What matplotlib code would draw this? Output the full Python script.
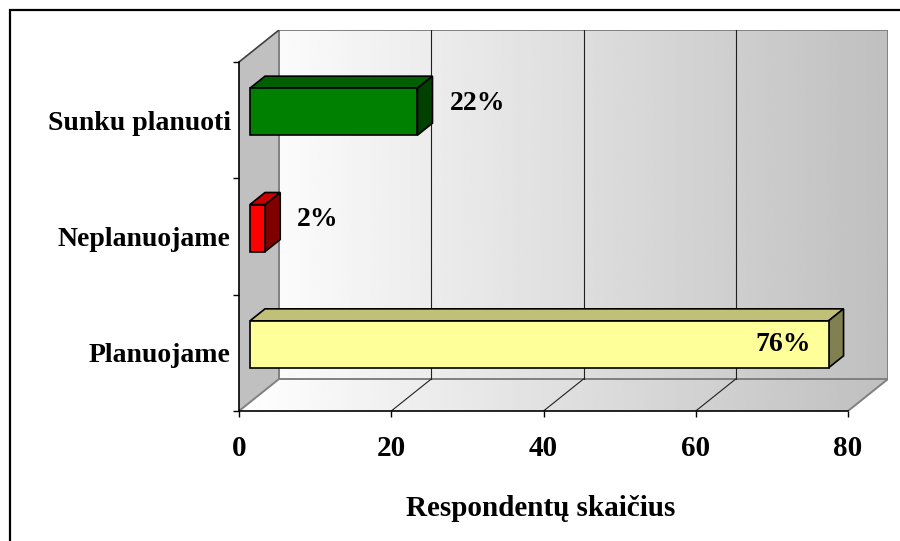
import matplotlib.pyplot as plt
import numpy as np
from matplotlib.patches import Polygon, Rectangle

# data
categories = ['Planuojame', 'Neplanuojame', 'Sunku planuoti']
values = [76, 2, 22]
pct_labels = ['76%', '2%', '22%']
front_colors = ['#ffff99', '#ff0000', '#008000']
top_colors = ['#c0c078', '#c80000', '#006000']
side_colors = ['#808050', '#800000', '#004000']
xticks = [0, 20, 40, 60, 80]
xlabel = 'Respondentų skaičius'

plt.rcParams['font.family'] = ['Liberation Serif', 'DejaVu Serif']
plt.rcParams['font.weight'] = 'bold'

W, H = 900, 541
fig = plt.figure(figsize=(W / 100, H / 100), dpi=100)

# front plane in pixels, and the 3d depth offsets
x0px, x80px = 239, 848
ybot, ytop = 411, 62
depth = (40, 32)
bar_front = (11, 8.5)
bar_depth = (15, 12)
bar_h = 47

ux = (x80px - x0px) / 80.0
uy = (ybot - ytop) / 3.0
wx, wy = depth[0] / ux, depth[1] / uy
fx, fy = bar_front[0] / ux, bar_front[1] / uy
bx, by = bar_depth[0] / ux, bar_depth[1] / uy
h = bar_h / uy

ax = fig.add_axes([x0px / W, (H - ybot) / H,
                   (x80px + depth[0] - x0px) / W, (ybot - ytop + depth[1]) / H])
ax.patch.set_visible(False)
xmax = 80 + wx
ytopd = 2.5 + wy

# back wall + floor with gradient
grad = np.linspace(1.0, 0.75, 256).reshape(1, -1)
im = ax.imshow(grad, cmap='gray', vmin=0, vmax=1, aspect='auto',
               extent=[0, xmax, -0.5, ytopd], zorder=0, interpolation='bilinear')
shape = Polygon([(0, -0.5), (80, -0.5), (xmax, -0.5 + wy), (xmax, ytopd),
                 (wx, ytopd), (wx, -0.5 + wy)], closed=True, transform=ax.transData)
im.set_clip_path(shape)

# side wall
ax.add_patch(Polygon([(0, -0.5), (0, 2.5), (wx, ytopd), (wx, -0.5 + wy)],
                     closed=True, facecolor='#c0c0c0', edgecolor='none', zorder=1))

# wall edges
edge = dict(color='#808080', lw=1.4, zorder=2, solid_capstyle='butt')
ax.plot([wx, xmax, xmax], [ytopd, ytopd, -0.5 + wy], **edge)
ax.plot([wx, xmax, 80], [-0.5 + wy, -0.5 + wy, -0.5], **edge)
ax.plot([wx, wx], [-0.5 + wy, ytopd], **edge)
ax.plot([0, wx], [-0.5, -0.5 + wy], **edge)
ax.plot([0, wx], [2.5, ytopd], color='#404040', lw=1.2, zorder=2)

# gridlines on wall and floor
for t in xticks[1:-1]:
    ax.plot([t + wx, t + wx], [-0.5 + wy, ytopd], color='#202020', lw=0.8, zorder=2)
    ax.plot([t, t + wx], [-0.5, -0.5 + wy], color='#202020', lw=0.8, zorder=2)

# bars
for i, v in enumerate(values):
    y0 = i - h / 2 + fy
    y1 = i + h / 2 + fy
    ax.add_patch(Polygon([(fx, y1), (v + fx, y1), (v + fx + bx, y1 + by), (fx + bx, y1 + by)],
                         closed=True, facecolor=top_colors[i], edgecolor='black', lw=1.2, zorder=4))
    ax.add_patch(Polygon([(v + fx, y0), (v + fx + bx, y0 + by), (v + fx + bx, y1 + by), (v + fx, y1)],
                         closed=True, facecolor=side_colors[i], edgecolor='black', lw=1.2, zorder=4))
    ax.add_patch(Rectangle((fx, y0), v, h, facecolor=front_colors[i],
                           edgecolor='black', lw=1.2, zorder=5))
    if v > 50:
        ax.text(v + fx - 18 / ux, i + fy, pct_labels[i], ha='right', va='center',
                fontsize=20, fontweight='bold', zorder=6)
    else:
        ax.text(v + fx + 32 / ux, i + 17 / uy, pct_labels[i], ha='left', va='center',
                fontsize=20, fontweight='bold', zorder=6)

ax.set_xlim(0, xmax)
ax.set_ylim(-0.5, ytopd)

# axes
for s in ['top', 'right']:
    ax.spines[s].set_visible(False)
ax.spines['bottom'].set_bounds(0, 80)
ax.spines['left'].set_bounds(-0.5, 2.5)
ax.spines['bottom'].set_linewidth(1.2)
ax.spines['left'].set_linewidth(1.2)
ax.spines['bottom'].set_zorder(3)
ax.spines['left'].set_zorder(3)

ax.set_xticks(xticks)
ax.set_xticklabels([str(t) for t in xticks], fontsize=21, fontweight='bold')
ax.tick_params(axis='x', direction='out', length=4, width=1, pad=13)

ax.set_yticks(range(len(categories)))
ax.set_yticklabels(categories, fontsize=20, fontweight='bold')
ax.set_yticks([-0.5, 0.5, 1.5, 2.5], minor=True)
ax.tick_params(axis='y', which='major', length=0, pad=6)
ax.tick_params(axis='y', which='minor', direction='out', length=4, width=1)

ax.set_xlabel(xlabel, fontsize=21, fontweight='bold', labelpad=22)
ax.xaxis.set_label_coords((541 - x0px) / (x80px + depth[0] - x0px), -0.22)

# outer frame
fig.patches.append(Rectangle((9.5 / W, -0.1), 1.2, 1 - 9.5 / H + 0.1, transform=fig.transFigure,
                             fill=False, edgecolor='black', lw=1.6, zorder=10))

fig.savefig('out.png', dpi=100)
